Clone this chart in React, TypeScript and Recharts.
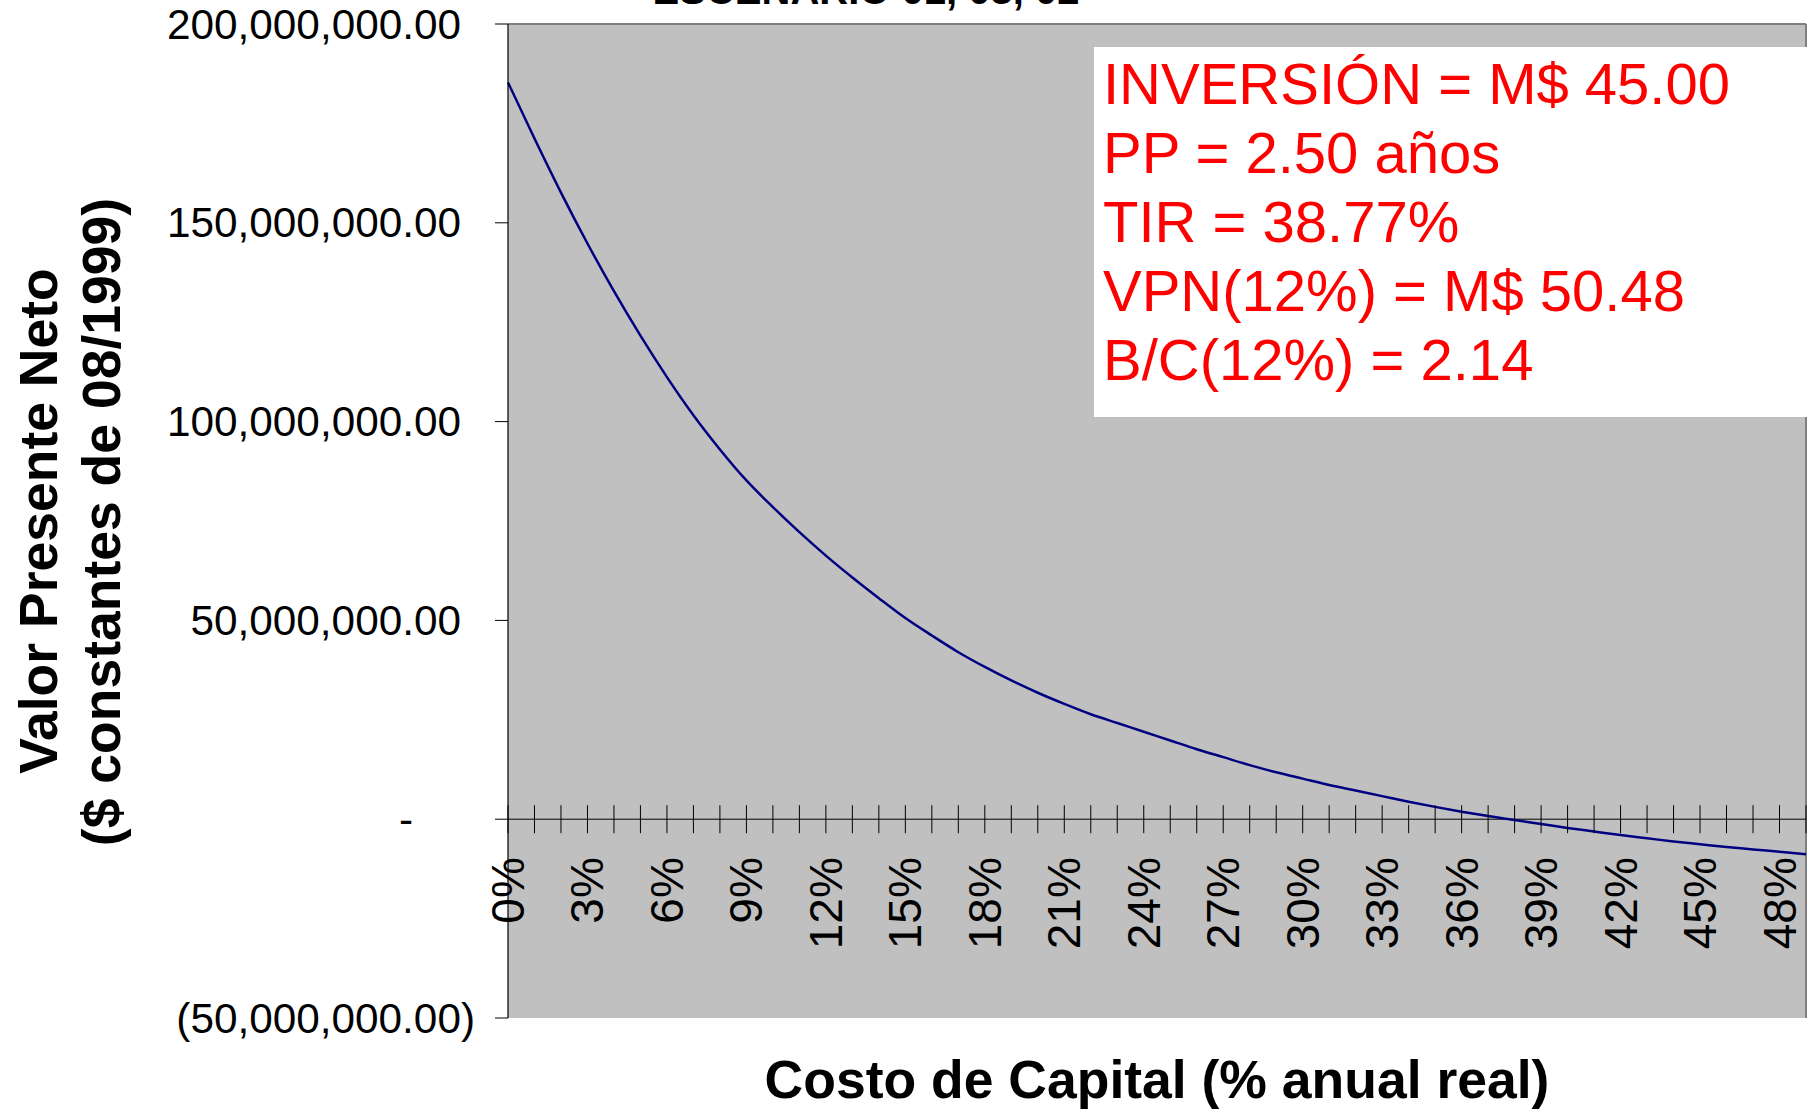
import React from "react";
import {
  LineChart,
  Line,
  XAxis,
  YAxis,
  CartesianGrid,
  ReferenceLine,
} from "recharts";

// costo de capital (% anual real), one point per 1%
const RATES = [
  "0%", "1%", "2%", "3%", "4%", "5%", "6%", "7%", "8%", "9%",
  "10%", "11%", "12%", "13%", "14%", "15%", "16%", "17%", "18%", "19%",
  "20%", "21%", "22%", "23%", "24%", "25%", "26%", "27%", "28%", "29%",
  "30%", "31%", "32%", "33%", "34%", "35%", "36%", "37%", "38%", "39%",
  "40%", "41%", "42%", "43%", "44%", "45%", "46%", "47%", "48%", "49%",
];

// valor presente neto, millones de $
const VPN_M = [
  185.3, 171.2, 157.6, 144.8, 132.8, 121.6, 111.2, 101.6, 93.0, 85.2,
  78.5, 72.2, 66.3, 60.8, 55.6, 50.6, 46.2, 42.0, 38.3, 34.9,
  31.8, 29.0, 26.4, 24.2, 22.0, 19.8, 17.6, 15.6, 13.6, 11.8,
  10.2, 8.6, 7.2, 5.8, 4.4, 3.1, 1.9, 0.8, -0.2, -1.2,
  -2.2, -3.1, -4.0, -4.8, -5.6, -6.3, -7.0, -7.6, -8.2, -8.8,
];

const Y_TICKS = [-50, 0, 50, 100, 150, 200];

const NOTES = [
  "INVERSIÓN = M$ 45.00",
  "PP = 2.50 años",
  "TIR = 38.77%",
  "VPN(12%) = M$ 50.48",
  "B/C(12%) = 2.14",
];

const data = RATES.map((r, i) => ({ rate: r, vpn: VPN_M[i] }));

const W = 1809;
const H = 1111;
const FONT = '"Liberation Sans", Arial, Helvetica, sans-serif';
const PLOT_TOP = 24;
const X_AXIS_H = 93;
const PLOT_H = H - PLOT_TOP - X_AXIS_H;
const Y_MIN = -50;
const Y_MAX = 200;
const ZERO_Y = PLOT_TOP + (PLOT_H * Y_MAX) / (Y_MAX - Y_MIN);

function fmtY(v: number) {
  if (v === 0) return "-";
  const s = Math.abs(v * 1e6).toLocaleString("en-US", {
    minimumFractionDigits: 2,
    maximumFractionDigits: 2,
  });
  return v < 0 ? `(${s})` : s;
}

const YTick = (props: any) => {
  const { x, y, payload } = props;
  const v = payload.value as number;
  const dx = v === 0 ? -48 : v < 0 ? 14 : 0;
  return (
    <text
      x={x + dx}
      y={y}
      textAnchor="end"
      dominantBaseline="central"
      fontFamily={FONT}
      fontSize={42.3}
      fill="#000"
    >
      {fmtY(v)}
    </text>
  );
};

const XTick = (props: any) => {
  const { x, index, payload } = props;
  return (
    <g>
      <line x1={x} x2={x} y1={ZERO_Y - 14} y2={ZERO_Y + 14} stroke="#000" strokeWidth={1} />
      {index % 3 === 0 && (
        <text
          transform={`translate(${x},${ZERO_Y + 38}) rotate(-90)`}
          textAnchor="end"
          dominantBaseline="central"
          fontFamily={FONT}
          fontSize={46}
          fill="#000"
        >
          {payload.value}
        </text>
      )}
    </g>
  );
};

export default function App() {
  return (
    <div
      style={{
        position: "absolute",
        left: 0,
        top: 0,
        width: W,
        height: H,
        background: "#fff",
        overflow: "hidden",
        fontFamily: FONT,
      }}
    >
      <LineChart
        width={W}
        height={H}
        data={data}
        margin={{ top: PLOT_TOP, right: 3, left: 308, bottom: 0 }}
      >
        <CartesianGrid horizontal={false} vertical={false} fill="#C0C0C0" />
        <XAxis
          dataKey="rate"
          type="category"
          interval={0}
          height={X_AXIS_H}
          axisLine={false}
          tickLine={false}
          tick={<XTick />}
        />
        <YAxis
          type="number"
          domain={[Y_MIN, Y_MAX]}
          ticks={Y_TICKS}
          interval={0}
          width={200}
          allowDataOverflow
          tickSize={13}
          tickMargin={34}
          axisLine={{ stroke: "#000", strokeWidth: 1.2 }}
          tickLine={{ stroke: "#000" }}
          tick={<YTick />}
        />
        <ReferenceLine y={Y_MAX} stroke="#808080" strokeWidth={2} />
        <ReferenceLine x={RATES[RATES.length - 1]} stroke="#808080" strokeWidth={2} />
        <ReferenceLine y={0} stroke="#000" strokeWidth={1} />
        <Line
          type="monotone"
          dataKey="vpn"
          stroke="#000080"
          strokeWidth={2.5}
          dot={false}
          isAnimationActive={false}
        />
      </LineChart>

      <svg
        width={W}
        height={H}
        style={{ position: "absolute", left: 0, top: 0, pointerEvents: "none" }}
      >
        <text x={866} y={4} textAnchor="middle" fontFamily={FONT} fontWeight="bold" fontSize={40}>
          ESCENARIO 01, 03, 02
        </text>
        <g fontFamily={FONT} fontWeight="bold" fontSize={53.5} fill="#000" textAnchor="middle">
          <text transform="translate(38,521) rotate(-90)" dominantBaseline="central">
            Valor Presente Neto
          </text>
          <text transform="translate(101,522) rotate(-90)" dominantBaseline="central">
            ($ constantes de 08/1999)
          </text>
          <text x={1157} y={1079} dominantBaseline="central" fontSize={53.5}>
            Costo de Capital (% anual real)
          </text>
        </g>
      </svg>

      <div
        style={{
          position: "absolute",
          left: 1094,
          top: 47,
          width: 713,
          height: 370,
          background: "#fff",
          color: "#FF0000",
          fontSize: 58,
          lineHeight: "69px",
          paddingTop: 2,
          paddingLeft: 9,
          boxSizing: "border-box",
          whiteSpace: "nowrap",
        }}
      >
        {NOTES.map((t) => (
          <div key={t}>{t}</div>
        ))}
      </div>
    </div>
  );
}
